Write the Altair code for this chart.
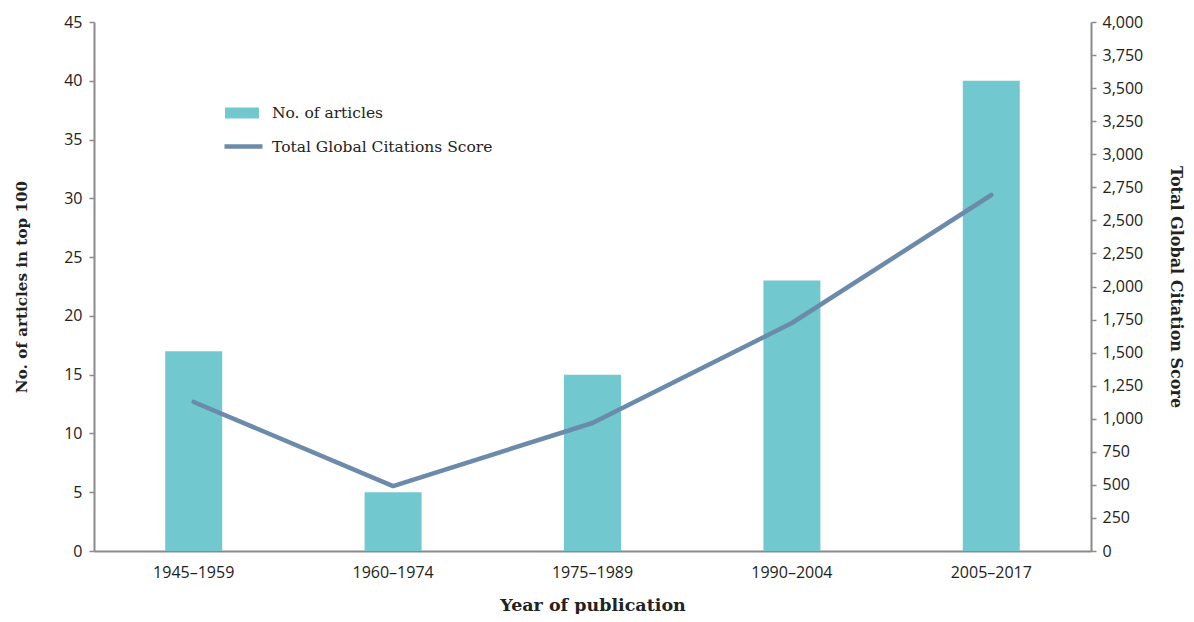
import altair as alt
import pandas as pd

periods = ["1945–1959", "1960–1974", "1975–1989", "1990–2004", "2005–2017"]
articles = [17, 5, 15, 23, 40]
citations = [1127, 491, 968, 1724, 2692]

df = pd.DataFrame({"period": periods, "articles": articles, "citations": citations})

BAR = "#71C9CF"
LINE = "#6C8AAA"
AX = "#8A8A8A"
SERIF = "DejaVu Serif"
SANS = "Open Sans"
LFS = 16

base = alt.Chart(df).encode(
    x=alt.X("period:N", sort=periods, title="Year of publication",
            axis=alt.Axis(labelAngle=0, ticks=False, labelPadding=13, titlePadding=16,
                          labelFont=SANS, labelFontSize=LFS, labelColor="#222",
                          titleFont=SERIF, titleFontSize=17.5, titleFontWeight="bold",
                          titleColor="#222", domainColor=AX, domainWidth=2))
)

bars = base.transform_calculate(s1="'No. of articles'").mark_bar(size=57).encode(
    y=alt.Y("articles:Q", title="No. of articles in top 100",
            scale=alt.Scale(domain=[0, 45]),
            axis=alt.Axis(values=list(range(0, 46, 5)), grid=False, tickSize=5,
                          labelPadding=7, titlePadding=34,
                          labelFont=SANS, labelFontSize=LFS, labelColor="#222",
                          titleFont=SERIF, titleFontSize=15.2, titleFontWeight="bold",
                          titleColor="#222", domainColor=AX, domainWidth=2,
                          tickColor=AX, tickWidth=1.5)),
    color=alt.Color("s1:N", scale=alt.Scale(domain=["No. of articles"], range=[BAR]),
                    legend=alt.Legend(orient="none", legendX=131, legendY=74, title=None,
                                      symbolType="M-1,-0.32H1V0.32H-1Z", symbolSize=1156,
                                      symbolStrokeWidth=0, labelFont=SERIF, labelLimit=400,
                                      labelFontSize=15.5, labelColor="#222", labelOffset=13)),
)

line = base.transform_calculate(s2="'Total Global Citations Score'").mark_line(
    strokeWidth=4.5, strokeCap="round", strokeJoin="round").encode(
    y=alt.Y("citations:Q", title="Total Global Citation Score",
            scale=alt.Scale(domain=[0, 4000]),
            axis=alt.Axis(orient="right", values=list(range(0, 4001, 250)), format=",.0f",
                          grid=False, tickSize=5, labelPadding=6, titlePadding=25,
                          labelFont=SANS, labelFontSize=LFS, labelColor="#222",
                          titleFont=SERIF, titleFontSize=16, titleFontWeight="bold",
                          titleColor="#222", domainColor=AX, domainWidth=2,
                          tickColor=AX, tickWidth=1.5)),
    stroke=alt.Stroke("s2:N", scale=alt.Scale(domain=["Total Global Citations Score"], range=[LINE]),
                      legend=alt.Legend(orient="none", legendX=128, legendY=103, title=None,
                                        symbolType="stroke", symbolSize=1444,
                                        symbolStrokeWidth=4.5, labelFont=SERIF, labelLimit=400,
                                        labelFontSize=15.5, labelColor="#222", labelOffset=7)),
)

chart = alt.layer(bars, line).resolve_scale(y="independent", color="independent").properties(
    width=997, height=529,
    autosize=alt.AutoSizeParams(type="none"),
    padding={"left": 86, "top": 14, "right": 95, "bottom": 63},
).configure_view(stroke=None)

chart.save("out.html", embed_options={"renderer": "svg", "actions": False})
